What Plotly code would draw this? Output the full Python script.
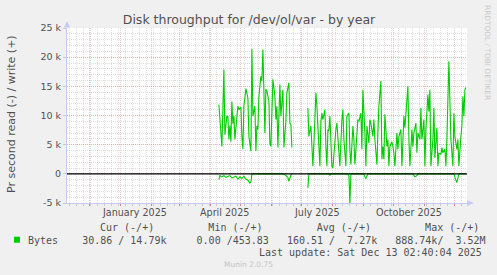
import plotly.graph_objects as go
import pandas as pd

# ---------------- data ----------------
# day offsets in 2025 (0 = 1 Jan 2025), values in k bytes / s
write_days_a = [98, 101, 103, 104, 106, 107, 108, 109, 110, 111,
                112, 113, 114, 116, 117, 118, 120, 121, 122, 123,
                125, 127, 128, 130, 131, 132, 134, 135, 136, 137,
                138, 140, 141, 142, 143, 144, 145, 146, 148, 149,
                150, 152, 154, 155, 156, 157, 159, 160, 162, 163,
                165, 166, 168, 169, 170, 171]
write_k_a = [11.9, 4.7, 17.9, 6.7, 9.9, 9.8, 5.9, 8.3, 5.5, 12.4,
             8.6, 9.9, 5.9, 9.5, 11.6, 11.0, 11.4, 6.4, 4.2, 11.6,
             14.6, 13.0, 6.4, 3.9, 21.4, 9.9, 11.6, 3.9, 8.2, 7.6,
             13.3, 16.7, 15.9, 21.3, 11.6, 7.0, 14.5, 14.2, 12.4, 5.2,
             4.7, 16.2, 13.3, 9.3, 11.6, 4.5, 15.3, 9.9, 14.4, 4.5,
             9.0, 13.9, 15.6, 8.7, 8.4, 4.5]

write_days_b = [187, 188, 190, 191, 192, 194, 195, 196, 198, 199,
                200, 201, 202, 204, 205, 206, 207, 208, 209, 211,
                212, 214, 215, 216, 218, 219, 221, 222, 223, 225,
                226, 228, 229, 230, 232, 233, 234, 236, 237, 238,
                240, 241, 242, 244, 245, 246, 248, 249, 250, 252,
                253, 254, 256, 257, 258, 260, 261, 262, 263, 264,
                266, 267, 268, 269, 271, 272, 273, 274, 276, 277,
                278, 280, 281, 283, 284, 285, 287, 288, 289, 291,
                292, 293, 295, 296, 297, 299, 300, 301, 303, 304,
                305, 307, 308, 309, 310, 312, 313, 314, 316, 317,
                318, 320, 321, 322, 324, 325, 326, 328, 329, 330,
                332, 333, 334, 336, 337, 338, 340, 341, 342, 343,
                344, 345]
write_k_b = [11.3, 6.4, 8.2, 3.6, 1.3, 9.3, 13.9, 11.6, 5.9, 1.3,
             9.0, 10.4, 9.3, 11.0, 4.7, 1.3, 7.6, 7.3, 9.9, 1.3,
             1.0, 6.4, 7.6, 8.7, 3.0, 1.3, 9.3, 11.0, 5.9, 1.3,
             9.9, 10.4, 4.2, 1.6, 8.2, 5.9, 1.6, 6.4, 9.3, 9.0,
             10.4, 4.2, 14.4, 7.0, 1.3, 8.2, 5.3, 9.3, 8.7, 6.4,
             9.3, 5.9, 1.6, 7.0, 11.6, 15.9, 2.5, 4.7, 2.5, 10.2,
             4.7, 5.9, 1.3, 4.7, 5.5, 4.7, 3.6, 1.3, 7.0, 4.2,
             6.4, 7.6, 1.3, 9.9, 7.9, 10.2, 15.0, 5.9, 1.3, 7.6,
             4.7, 7.0, 8.7, 3.6, 7.0, 5.9, 11.3, 5.9, 9.3, 1.3,
             7.6, 13.6, 10.7, 14.4, 1.3, 5.9, 11.3, 2.7, 7.9, 1.3,
             3.6, 3.3, 4.5, 3.6, 4.2, 1.3, 5.9, 19.3, 11.6, 5.9,
             1.3, 10.4, 6.4, 4.2, 5.9, 1.3, 6.4, 8.2, 13.3, 9.9,
             14.4, 14.8]

read_days_a = [98, 99, 101, 103, 105, 107, 109, 111, 113, 115,
               117, 119, 121, 123, 125, 127, 129, 130, 131, 132,
               163, 165, 167, 168, 169, 170, 171]
read_k_a = [-1.0, -0.3, -0.5, -0.3, -0.6, -0.4, -0.3, -0.7, -0.5, -0.4,
            -0.9, -0.5, -0.8, -0.4, -0.9, -1.1, -1.6, -1.4, -0.1, 0.0,
            0.0, -0.3, -0.6, -1.3, -0.5, -0.2, 0.0]

read_days_b = [187, 188, 208, 209, 210, 227, 228, 229, 230, 243,
               244, 245, 246, 247, 292, 293, 294, 295, 296, 297,
               333, 334, 335, 336, 337, 338, 345]
read_k_b = [-2.4, 0.0, 0.0, -0.3, 0.0, 0.0, -0.3, -5.0, 0.0, 0.0,
            -0.5, -0.8, -0.4, 0.0, 0.0, -0.3, -0.5, -0.4, -0.3, 0.0,
            0.0, -0.6, -1.0, -1.5, -0.8, 0.0, 0.0]

y_tickvals = [-5000, 0, 5000, 10000, 15000, 20000, 25000]
y_ticktext = ["-5 k", "0", "5 k", "10 k", "15 k", "20 k", "25 k"]

month_labels = ["January 2025", "April 2025", "July 2025", "October 2025"]
month_label_dates = ["2025-01-15", "2025-04-15", "2025-07-16", "2025-10-16"]

title = "Disk throughput for /dev/ol/var - by year"
ylabel = "Pr second read (-) / write (+)"
legend_head = ["Cur (-/+)", "Min (-/+)", "Avg (-/+)", "Max (-/+)"]
legend_name = "Bytes"
legend_vals = ["30.86 / 14.79k", "0.00 /453.83", "160.51 /  7.27k", "888.74k/  3.52M"]
last_update = "Last update: Sat Dec 13 02:40:04 2025"
footer = "Munin 2.0.75"
side_text = "RRDTOOL / TOBI OETIKER"

x_start = "2024-11-08 02:40:04"
x_end = "2025-12-13 02:40:04"

# ---------------- build series ----------------
base = pd.Timestamp("2025-01-01")


def to_dates(days):
    return [base + pd.Timedelta(days=d) for d in days]


gap_a = base + pd.Timedelta(days=179)
write_x = to_dates(write_days_a) + [gap_a] + to_dates(write_days_b)
write_y = [v * 1000 for v in write_k_a] + [None] + [v * 1000 for v in write_k_b]
read_x = to_dates(read_days_a) + [gap_a] + to_dates(read_days_b)
read_y = [v * 1000 for v in read_k_a] + [None] + [v * 1000 for v in read_k_b]

# ---------------- layout geometry ----------------
W, H = 497, 275
L, R, T, B = 67, 30, 28, 72
PW, PH = W - L - R, H - T - B


def px(x):
    return (x - L) / PW


def py(y):
    return (H - B - y) / PH


GREEN = "#00cc00"
AX = "#c4cbf6"
TXT = "#505050"
MGRID = "rgba(230,110,110,0.38)"
GRID = "rgba(160,160,160,0.36)"

fig = go.Figure()
fig.add_trace(go.Scatter(x=write_x, y=write_y, mode="lines",
                         line=dict(color=GREEN, width=1.1), connectgaps=False,
                         hoverinfo="skip", showlegend=False))
fig.add_trace(go.Scatter(x=read_x, y=read_y, mode="lines",
                         line=dict(color=GREEN, width=1.1), connectgaps=False,
                         hoverinfo="skip", showlegend=False))

fig.update_layout(
    width=W, height=H,
    margin=dict(l=L, r=R, t=T, b=B, pad=0),
    paper_bgcolor="#f0f0f0",
    plot_bgcolor="#ffffff",
    showlegend=False,
    title=dict(text=title, x=249 / W, xref="container", xanchor="center",
               y=1 - 19.5 / H, yref="container", yanchor="middle",
               font=dict(family="DejaVu Sans", size=12.5, color=TXT)),
    xaxis=dict(
        type="date", range=[x_start, x_end], fixedrange=True,
        showgrid=True, gridcolor=MGRID, griddash="1px,1px", gridwidth=1,
        tick0="2024-12-01", dtick="M1",
        ticks="outside", ticklen=2, tickcolor="#e48080", tickwidth=1,
        showticklabels=False,
        showline=True, linecolor=AX, linewidth=1, zeroline=False,
        minor=dict(tick0="2024-11-11", dtick=7 * 86400000, showgrid=True,
                   gridcolor=GRID, griddash="1px,1px", gridwidth=1,
                   ticks="outside", ticklen=2, tickcolor="#c8c8c8"),
    ),
    yaxis=dict(
        range=[-5000, 25000], fixedrange=True,
        tickmode="array", tickvals=y_tickvals, ticktext=y_ticktext,
        showgrid=True, gridcolor=MGRID, griddash="1px,1px", gridwidth=1,
        ticks="outside", ticklen=3, tickcolor="#c8c8c8",
        tickfont=dict(family="DejaVu Sans", size=9.5, color=TXT),
        showline=True, linecolor=AX, linewidth=1, zeroline=False,
        minor=dict(tick0=0, dtick=1000, showgrid=True, gridcolor=GRID,
                   griddash="1px,1px", gridwidth=1),
    ),
)

shapes = [
    # zero rule
    dict(type="line", xref="paper", x0=0, x1=1, yref="y", y0=0, y1=0,
         line=dict(color="#000000", width=1.3), layer="above"),
    # axis arrows
    dict(type="path", xref="paper", yref="paper",
         path=f"M {px(64)},{py(27.5)} L {px(70)},{py(27.5)} L {px(67)},{py(21)} Z",
         fillcolor=AX, line=dict(width=0)),
    dict(type="path", xref="paper", yref="paper",
         path=f"M {px(467)},{py(200)} L {px(467)},{py(206)} L {px(474)},{py(203)} Z",
         fillcolor=AX, line=dict(width=0)),
    # legend colour box
    dict(type="rect", xref="paper", yref="paper",
         x0=px(14), x1=px(20), y0=py(242.7), y1=py(236.7),
         fillcolor=GREEN, line=dict(width=0)),
]
fig.update_layout(shapes=shapes)

NB = "\u00a0"
ann = []
for lab, d in zip(month_labels, month_label_dates):
    ann.append(dict(text=lab, x=d, xref="x", y=py(212.5), yref="paper",
                    xanchor="center", yanchor="middle", showarrow=False,
                    font=dict(family="DejaVu Sans", size=9.6, color=TXT)))

ann.append(dict(text=ylabel, x=px(11), xref="paper", y=py(114), yref="paper",
                textangle=-90, xanchor="center", yanchor="middle", showarrow=False,
                font=dict(family="DejaVu Sans", size=11, color=TXT)))

mono = dict(family="DejaVu Sans Mono", size=10, color=TXT)
head = (NB * 9).join(legend_head)
ann.append(dict(text=head, x=px(98), xref="paper", y=py(227.3), yref="paper",
                xanchor="left", yanchor="middle", showarrow=False, font=mono))
row = legend_name + NB * 4 + legend_vals[0] + NB * 5 + legend_vals[1] + NB * 3 + \
    legend_vals[2] + NB * 3 + legend_vals[3]
row = row.replace(" ", NB)
ann.append(dict(text=row, x=px(26), xref="paper", y=py(240), yref="paper",
                xanchor="left", yanchor="middle", showarrow=False, font=mono))
ann.append(dict(text=last_update.replace(" ", NB), x=px(484), xref="paper",
                y=py(252), yref="paper", xanchor="right", yanchor="middle",
                showarrow=False, font=mono))
ann.append(dict(text=footer, x=px(248), xref="paper", y=py(264), yref="paper",
                xanchor="center", yanchor="middle", showarrow=False,
                font=dict(family="DejaVu Sans", size=7.5, color="#c4c4c4")))
ann.append(dict(text=side_text, x=px(488), xref="paper", y=py(52), yref="paper",
                textangle=90, xanchor="center", yanchor="middle", showarrow=False,
                font=dict(family="DejaVu Sans", size=7.4, color="#c8c8c8")))
fig.update_layout(annotations=ann)

fig.write_html("out.html", config={"displayModeBar": False, "staticPlot": True})
